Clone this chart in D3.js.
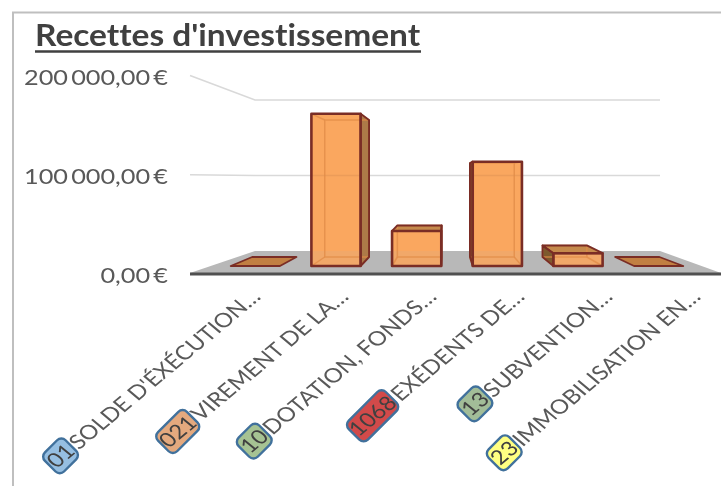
<!DOCTYPE html>
<html>
<head>
<meta charset="utf-8">
<script src="https://cdn.jsdelivr.net/npm/d3@7"></script>
<style>
  html, body { margin: 0; background: #fff; overflow: hidden; }
  svg { display: block; filter: blur(0.45px); }
  text { font-family: Lato, "Open Sans", sans-serif; font-variant-ligatures: none; }
</style>
</head>
<body>
<div id="chart"></div>
<script>
const codes = ["01", "021", "10", "1068", "13", "23"];
const names = ["SOLDE D'ÉXÉCUTION…", "VIREMENT DE LA…", "DOTATION, FONDS…", "EXÉDENTS DE…", "SUBVENTION…", "IMMOBILISATION EN…"];
const values = [0, 178000, 41000, 122000, 15000, 0];
const tickValues = [0, 100000, 200000];
const badgeColors = ["#96bfe2", "#e4a97e", "#a6c393", "#d24a4a", "#a2bd98", "#ffff82"];

const width = 721, height = 486;

const svg = d3.select("#chart").append("svg")
    .attr("width", width)
    .attr("height", height);

// frame
svg.append("path")
    .attr("d", d3.line()([[13, height], [13, 12.5], [width, 12.5]]))
    .attr("fill", "none")
    .attr("stroke", "#bfbfbf")
    .attr("stroke-width", 2);

// title
svg.append("text")
    .attr("transform", "translate(35,46) scale(1.116,1)")
    .attr("font-size", 30)
    .attr("font-weight", 700)
    .attr("fill", "#404040")
    .text("Recettes d'investissement");

svg.append("line")
    .attr("x1", 35).attr("x2", 421)
    .attr("y1", 51.5).attr("y2", 51.5)
    .attr("stroke", "#404040")
    .attr("stroke-width", 2.4);

// scales
const x = d3.scaleBand().domain(codes).range([215, 699]).paddingInner(0.39).paddingOuter(0.195);
const y = d3.scaleLinear().domain([0, 200000]).range([266, 95]);
const yLabel = d3.scaleLinear().domain([0, 200000]).range([275, 77]);
const yWallFront = d3.scaleLinear().domain([0, 200000]).range([274, 75.5]);
const yWallBack = d3.scaleLinear().domain([0, 200000]).range([251, 100]);
const xLabel = d3.scalePoint().domain(codes).range([256, 696]);

// perspective: a point pushed back along the bar depth moves toward this spot
const vanish = [445, 176];
const depth = 0.1;
const back = p => [p[0] + depth * (vanish[0] - p[0]), p[1] + depth * (vanish[1] - p[1])];

// floor
const floorX = [190, 255, 660, 721];
svg.append("path")
    .attr("d", d3.line()([
        [floorX[0], yWallFront(0) - 1], [floorX[1], yWallBack(0)],
        [floorX[2], yWallBack(0)], [floorX[3], yWallFront(0) - 1]
    ]) + "Z")
    .attr("fill", "#b8b8b8");

// gridlines on left wall and back wall
tickValues.filter(d => d > 0).forEach(d => {
    svg.append("path")
        .attr("d", d3.line()([[floorX[0], yWallFront(d)], [floorX[1], yWallBack(d)], [floorX[2], yWallBack(d)]]))
        .attr("fill", "none")
        .attr("stroke", "#d9d9d9")
        .attr("stroke-width", 1.6);
});

svg.append("line")
    .attr("x1", floorX[0]).attr("x2", floorX[3])
    .attr("y1", yWallFront(0)).attr("y2", yWallFront(0))
    .attr("stroke", "#505050")
    .attr("stroke-width", 3);

// value axis
const locale = d3.formatLocale({decimal: ",", thousands: "\u2009", grouping: [3], currency: ["", " €"]});
const yAxis = d3.axisLeft(yLabel)
    .tickValues(tickValues)
    .tickSize(0)
    .tickPadding(0)
    .tickFormat(d => locale.format(",.2f")(d) + "\u2009€");

const axisG = svg.append("g")
    .attr("transform", "translate(168,0)")
    .call(yAxis);
axisG.select(".domain").remove();
axisG.selectAll("text")
    .attr("x", 0)
    .attr("dy", "0.36em")
    .attr("transform", "scale(1.15,1)")
    .attr("font-size", 22)
    .attr("font-family", "Lato")
    .attr("fill", "#595959");

// bars
const edge = "#7a2d25";
const inner = "#e08b47";
const poly = pts => d3.line()(pts) + "Z";

codes.forEach((code, i) => {
    const v = values[i];
    const x0 = x(code), x1 = x0 + x.bandwidth();
    const y0 = y(0), y1 = y(v);
    const g = svg.append("g").attr("stroke-linejoin", "round");

    const fl = [x0, y0], fr = [x1, y0], tl = [x0, y1], tr = [x1, y1];
    const bfl = back(fl), bfr = back(fr), btl = back(tl), btr = back(tr);

    if (v === 0) {
        // empty category: only a flat plate on the floor
        g.append("path").attr("d", poly([fl, fr, bfr, bfl]))
            .attr("fill", "#c17f42").attr("stroke", edge).attr("stroke-width", 1.8);
        return;
    }

    // sides that face the viewer
    const faces = [];
    if (x1 < vanish[0]) faces.push({pts: [fr, tr, btr, bfr], fill: "#ad7a48"});
    if (x0 > vanish[0]) faces.push({pts: [fl, tl, btl, bfl], fill: "#7d5a2e"});
    if (y1 > vanish[1]) faces.push({pts: [tl, tr, btr, btl], fill: "#c58a4c"});

    faces.forEach(f => {
        g.append("path").attr("d", poly(f.pts)).attr("fill", f.fill);
    });

    g.append("path").attr("d", poly([fl, fr, tr, tl]))
        .attr("fill", "#faa75f")
        .attr("stroke", "none");

    // floor and gridline showing faintly through the front
    g.append("rect")
        .attr("x", x0).attr("width", x1 - x0)
        .attr("y", Math.max(y1, yWallBack(0))).attr("height", y0 - Math.max(y1, yWallBack(0)))
        .attr("fill", "#b8b8b8").attr("fill-opacity", 0.12);
    if (y1 < yWallBack(100000)) {
        g.append("line")
            .attr("x1", x0).attr("x2", x1)
            .attr("y1", yWallBack(100000)).attr("y2", yWallBack(100000))
            .attr("stroke", "#d08a50").attr("stroke-opacity", 0.35).attr("stroke-width", 1.4);
    }

    // back edges of the box, seen through the front
    const seen = g.append("g")
        .attr("fill", "none")
        .attr("stroke", inner)
        .attr("stroke-opacity", 0.75)
        .attr("stroke-width", 1.5);
    seen.append("path").attr("d", poly([bfl, bfr, btr, btl]));
    seen.append("path").attr("d", d3.line()([fl, bfl]));
    seen.append("path").attr("d", d3.line()([fr, bfr]));
    if (y1 < vanish[1]) {
        seen.append("path").attr("d", d3.line()([tl, btl]));
        seen.append("path").attr("d", d3.line()([tr, btr]));
    }

    faces.forEach(f => {
        g.append("path").attr("d", poly(f.pts))
            .attr("fill", "none").attr("stroke", edge).attr("stroke-width", 1.9);
    });

    g.append("path").attr("d", poly([fl, fr, tr, tl]))
        .attr("fill", "none")
        .attr("stroke", edge).attr("stroke-width", 2.6);
});

// category labels with their code badges
const labelSize = 20;
const labels = svg.selectAll(".cat")
    .data(codes)
    .join("g")
    .attr("class", "cat")
    .attr("transform", d => `translate(${xLabel(d)},293) scale(1.2,1) rotate(-45)`);

labels.each(function(code, i) {
    const g = d3.select(this);
    const name = g.append("text")
        .attr("text-anchor", "end")
        .attr("dy", "0.35em")
        .attr("font-size", labelSize)
        .attr("fill", "#595959")
        .text(names[i]);
    const nameLen = name.node().getComputedTextLength();
    const badge = g.append("g");
    const codeText = badge.append("text")
        .attr("text-anchor", "middle")
        .attr("dy", "0.35em")
        .attr("font-size", labelSize)
        .attr("fill", "#404040")
        .text(code);
    const codeLen = codeText.node().getComputedTextLength();
    const bw = codeLen + 6, bh = 27;
    badge.attr("transform", `translate(${-nameLen - 2 - codeLen / 2 - 1},0)`);
    // the box keeps a true 45 degree turn, only the lettering is stretched
    badge.insert("rect", "text")
        .attr("transform", "rotate(45) scale(0.8333,1) rotate(-45)")
        .attr("x", -bw / 2).attr("y", -bh / 2)
        .attr("width", bw).attr("height", bh)
        .attr("rx", 6)
        .attr("fill", badgeColors[i])
        .attr("stroke", "#41719c")
        .attr("stroke-width", 2.4);
});
</script>
</body>
</html>
